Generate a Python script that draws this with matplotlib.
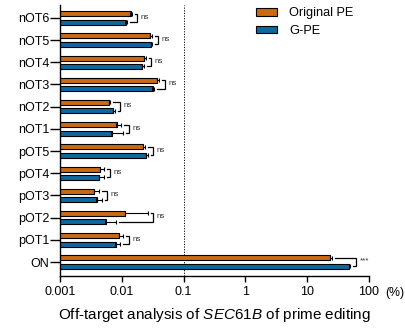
import numpy as np
import matplotlib
matplotlib.use("Agg")
import matplotlib.pyplot as plt
from matplotlib.patches import Patch

plt.rcParams['font.family'] = ['Liberation Sans', 'DejaVu Sans']
plt.rcParams['mathtext.fontset'] = 'custom'
plt.rcParams['mathtext.rm'] = 'Liberation Sans'
plt.rcParams['mathtext.it'] = 'Liberation Sans:italic'

# Data (bottom to top)
categories = ['ON', 'pOT1', 'pOT2', 'pOT3', 'pOT4', 'pOT5',
              'nOT1', 'nOT2', 'nOT3', 'nOT4', 'nOT5', 'nOT6']
orig_mean = [23.7, 0.00887, 0.0111, 0.00351, 0.00438, 0.0219,
             0.00815, 0.00615, 0.0371, 0.0228, 0.0290, 0.01374]
orig_sd = [1.8, 0.0016, 0.0152, 0.00084, 0.00081, 0.0022,
           0.00166, 0.00035, 0.0036, 0.0016, 0.0020, 0.0008]
gpe_mean = [47.6, 0.00784, 0.00539, 0.00380, 0.00423, 0.0246,
            0.00675, 0.00719, 0.0313, 0.0213, 0.0296, 0.01140]
gpe_sd = [2.4, 0.0016, 0.0028, 0.00096, 0.00083, 0.0017,
          0.0037, 0.00045, 0.0018, 0.0013, 0.0017, 0.0007]
signif = ['***', 'ns', 'ns', 'ns', 'ns', 'ns', 'ns', 'ns', 'ns', 'ns', 'ns', 'ns']
xticks = [0.001, 0.01, 0.1, 1, 10, 100]
xticklabels = ['0.001', '0.01', '0.1', '1', '10', '100']
series_names = ['Original PE', 'G-PE']

c_orange = '#CC6A14'
c_blue = '#0E68A0'

fig = plt.figure(figsize=(4.05, 3.29), dpi=100)
ax = fig.add_axes([60/405, 1-276/329, (369-60)/405, (276-5)/329])

y = np.arange(len(categories))
off = 0.19
h = 0.225
om = np.array(orig_mean); osd = np.array(orig_sd)
gm = np.array(gpe_mean); gsd = np.array(gpe_sd)

ax.barh(y + off, om, height=h, left=1e-4, color=c_orange, edgecolor='black', linewidth=0.8, zorder=2)
ax.barh(y - off, gm, height=h, left=1e-4, color=c_blue, edgecolor='black', linewidth=0.8, zorder=2)
ax.errorbar(om, y + off, xerr=[np.zeros_like(osd), osd], fmt='none', ecolor='black',
            elinewidth=0.8, capsize=1.5, capthick=0.8, zorder=3)
ax.errorbar(gm, y - off, xerr=[np.zeros_like(gsd), gsd], fmt='none', ecolor='black',
            elinewidth=0.8, capsize=1.5, capthick=0.8, zorder=3)

ax.axvline(0.1, color='black', linestyle=(0, (1.2, 1.5)), linewidth=0.7, zorder=1)

px = lambda n: 10 ** (n / 61.5)
for i in range(len(categories)):
    oe = om[i] + osd[i]
    ge = gm[i] + gsd[i]
    bx = max(oe, ge) * px(5.5)
    so = min(bx / px(2.5), oe * px(3))
    sg = min(bx / px(2.5), ge * px(3))
    ax.plot([so, bx, bx, sg], [y[i] + off, y[i] + off, y[i] - off, y[i] - off],
            color='black', linewidth=0.9, solid_joinstyle='miter', zorder=3)
    ax.text(bx * px(3.5), y[i] + 0.03, signif[i], fontsize=5.8, color='#333333',
            va='center', ha='left')

ax.set_xscale('log')
ax.set_xlim(0.001, 100)
ax.set_ylim(-0.63, 11.58)
ax.set_xticks(xticks)
ax.set_xticklabels(xticklabels)
ax.xaxis.set_minor_locator(matplotlib.ticker.NullLocator())
ax.set_yticks(y)
ax.set_yticklabels(categories)
ax.tick_params(axis='x', length=4.3, width=1.0, labelsize=9, pad=3)
ax.tick_params(axis='y', length=7, width=1.0, labelsize=9, pad=0.8)
for s in ['top', 'right']:
    ax.spines[s].set_visible(False)
for s in ['left', 'bottom']:
    ax.spines[s].set_linewidth(1.0)

ax.text(1.051, -0.062, '(%)', transform=ax.transAxes, fontsize=8.8, ha='left', va='center')
ax.set_xlabel('Off-target analysis of $\\mathit{SEC61B}$ of prime editing', fontsize=11, labelpad=5.5)

handles = [Patch(facecolor=c_orange, edgecolor='black', linewidth=0.8),
           Patch(facecolor=c_blue, edgecolor='black', linewidth=0.8)]
fig.legend(handles, series_names, loc='upper left', bbox_to_anchor=(256/405, 0.978),
           frameon=False, fontsize=9.2, borderpad=0, borderaxespad=0,
           handlelength=1.65, handleheight=0.55, handletextpad=0.95, labelspacing=0.45)

fig.savefig('out.png', dpi=100)
